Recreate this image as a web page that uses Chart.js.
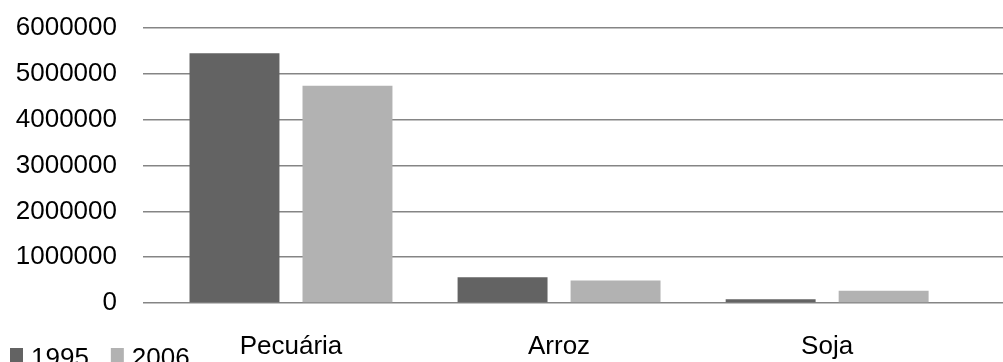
<!DOCTYPE html>
<html>
<head>
<meta charset="utf-8">
<script src="https://cdn.jsdelivr.net/npm/chart.js@4/dist/chart.umd.min.js"></script>
<style>
  html, body { margin: 0; padding: 0; background: #fff; }
  #wrap { width: 1003px; height: 362px; }
</style>
</head>
<body>
<div id="wrap"><canvas id="chart" width="1003" height="362"></canvas></div>
<script>
// Categories and yearly series
var categories = ['Pecuária', 'Arroz', 'Soja'];
var years = ['1995', '2006'];
var values1995 = [5450000, 560000, 80000];
var values2006 = [4740000, 490000, 270000];
var yTicks = [0, 1000000, 2000000, 3000000, 4000000, 5000000, 6000000];

var colors = ['#636363', '#b2b2b2'];
var fontFamily = '"Liberation Sans", Arial, sans-serif';
var fontSize = 26;

// Categories sit on a numeric axis (index 0..2) so the empty margins
// on both sides of the groups can be set freely.
function toPoints(values) {
    return values.map(function(v, i) { return {x: i, y: v}; });
}

// Small legend drawn in the bottom-left corner, beside the category labels.
var cornerLegend = {
    id: 'cornerLegend',
    afterDraw: function(chart) {
        var ctx = chart.ctx;
        var x = 10;
        var y = 355;
        ctx.save();
        ctx.font = fontSize + 'px ' + fontFamily;
        ctx.textBaseline = 'middle';
        chart.data.datasets.forEach(function(ds) {
            ctx.fillStyle = ds.backgroundColor;
            ctx.fillRect(x, y - 7, 13, 15);
            ctx.fillStyle = '#000';
            ctx.fillText(ds.label, x + 21, y + 4);
            x += 21 + ctx.measureText(ds.label).width + 22;
        });
        ctx.restore();
    }
};

new Chart(document.getElementById('chart'), {
    type: 'bar',
    data: {
        datasets: [{
            label: years[0],
            data: toPoints(values1995),
            backgroundColor: colors[0]
        }, {
            label: years[1],
            data: toPoints(values2006),
            backgroundColor: colors[1]
        }]
    },
    options: {
        responsive: false,
        animation: false,
        layout: {padding: {top: 28, right: 0, left: 0, bottom: 0}},
        categoryPercentage: 0.843,
        barPercentage: 0.796,
        plugins: {
            legend: {display: false},
            tooltip: {enabled: false}
        },
        scales: {
            x: {
                type: 'linear',
                offset: false,
                min: -0.552,
                max: 2.656,
                afterBuildTicks: function(scale) {
                    scale.ticks = categories.map(function(c, i) { return {value: i}; });
                },
                grid: {display: false},
                border: {display: false},
                ticks: {
                    color: '#000',
                    padding: 20,
                    autoSkip: false,
                    maxRotation: 0,
                    font: {family: fontFamily, size: fontSize},
                    callback: function(v) { return categories[v]; }
                },
                afterFit: function(scale) {
                    scale.height = 59;
                    scale.paddingLeft = 0;
                    scale.paddingRight = 0;
                }
            },
            y: {
                min: 0,
                max: 6000000,
                afterBuildTicks: function(scale) {
                    scale.ticks = yTicks.map(function(v) { return {value: v}; });
                },
                grid: {color: '#858585', lineWidth: 1.6, drawTicks: false},
                border: {display: false},
                ticks: {
                    color: '#000',
                    padding: 26,
                    font: {family: fontFamily, size: fontSize},
                    callback: function(v) { return String(v); }
                },
                afterFit: function(scale) {
                    scale.width = 143;
                    scale.paddingTop = 0;
                    scale.paddingBottom = 0;
                }
            }
        }
    },
    plugins: [cornerLegend]
});
</script>
</body>
</html>
